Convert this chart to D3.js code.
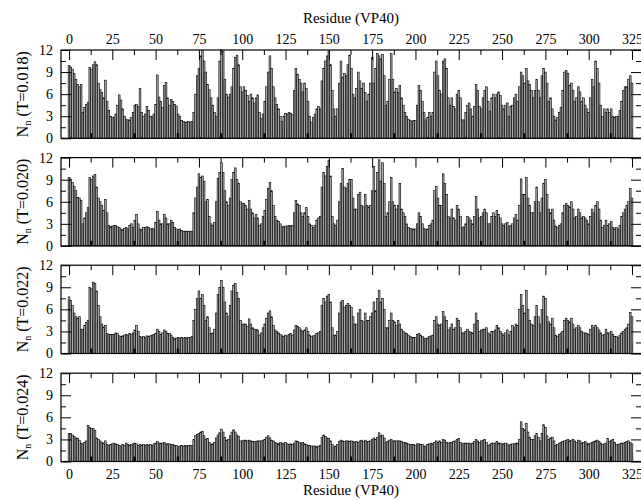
<!DOCTYPE html>
<html><head><meta charset="utf-8">
<script src="https://cdn.jsdelivr.net/npm/d3@7"></script>
<style>body{margin:0;background:#fff}svg{display:block}</style>
</head><body><svg id="c" width="641" height="500"></svg>
<script>
const temps = ["0.018","0.020","0.022","0.024"];
const xTicks = [0,25,50,75,100,125,150,175,200,225,250,275,300,325];
const yTicks = [0,3,6,9,12];
const xTitle = "Residue (VP40)";

const nT018 = [
9.9,9.7,9.4,8.8,8.0,7.3,7.0,7.3,3.5,4.2,
4.6,4.9,9.6,9.4,10.0,10.4,10.0,7.5,6.6,6.2,
5.5,7.9,5.0,3.8,3.0,2.8,2.9,3.3,4.5,5.9,
5.2,4.0,3.0,2.6,2.5,2.5,2.8,3.5,4.5,4.6,
4.3,6.8,3.5,3.0,3.3,4.3,3.8,3.0,3.0,3.3,
4.6,8.6,5.6,5.0,4.2,7.2,7.6,5.5,4.5,5.3,
5.0,4.6,4.4,3.3,3.0,2.4,2.3,2.2,2.2,2.3,
2.2,2.3,3.5,6.0,8.5,9.5,11.2,11.9,10.5,9.0,
7.3,6.6,5.5,4.5,3.5,3.0,5.5,10.5,12.0,11.8,
8.0,6.0,5.6,6.0,7.0,9.5,11.0,11.3,10.0,7.0,
6.3,7.0,6.5,5.8,5.0,6.0,5.5,4.8,5.5,5.9,
3.5,2.7,3.3,5.0,7.0,9.0,11.2,9.5,7.0,5.5,
4.6,4.0,3.0,2.3,3.0,3.4,3.3,3.5,3.4,3.2,
6.5,9.5,8.7,8.0,7.5,6.3,7.5,6.8,5.0,3.0,
2.2,2.8,3.3,4.0,4.3,4.0,7.8,9.5,10.5,11.2,
11.8,10.0,6.5,4.0,3.0,4.0,7.5,10.5,8.3,8.8,
8.5,10.0,11.3,9.5,6.0,5.5,6.8,9.0,7.8,6.8,
7.5,6.2,5.0,6.0,7.5,11.0,7.5,9.5,11.5,11.2,
10.8,11.4,8.5,4.5,5.0,8.0,11.5,8.0,6.3,6.8,
6.2,7.2,5.5,4.5,3.5,3.0,2.6,2.4,2.3,2.4,
2.4,4.5,7.2,6.5,5.0,3.5,2.5,2.8,3.5,3.0,
3.5,9.0,10.5,8.5,6.5,6.0,10.5,10.8,9.5,5.5,
4.5,5.5,4.3,4.0,6.0,6.5,5.5,2.5,2.5,3.5,
4.5,4.8,4.0,3.0,4.3,7.3,6.5,4.3,4.0,5.5,
6.5,7.0,5.0,3.7,5.5,6.0,5.5,6.0,6.3,5.8,
4.5,4.0,4.5,4.8,3.0,4.3,4.5,5.5,6.0,5.0,
7.0,9.0,8.5,7.5,9.5,7.8,7.3,6.5,5.5,6.5,
8.0,6.5,5.5,8.5,9.5,9.0,7.5,5.0,5.5,4.0,
3.0,2.5,2.8,3.5,4.2,6.5,9.0,9.2,8.8,7.2,
7.5,6.5,5.0,5.5,7.0,6.3,5.0,5.5,4.5,4.0,
3.5,5.5,8.0,7.0,10.5,9.5,7.5,4.5,3.0,4.0,
3.5,4.0,3.5,4.0,3.0,2.8,3.0,3.0,3.8,5.0,
6.5,7.0,7.0,8.0,8.5,7.5];

const nT020 = [
9.3,9.1,8.6,8.1,7.5,6.6,6.5,6.2,3.0,3.8,
4.5,5.2,9.3,9.0,9.5,9.7,8.0,6.5,6.0,5.5,
4.8,6.3,4.5,2.8,2.6,2.7,2.8,2.8,2.6,2.5,
2.3,2.2,2.4,2.5,2.3,2.8,3.0,2.5,3.5,4.3,
3.0,2.3,2.2,2.5,2.5,2.6,2.5,2.3,2.4,2.3,
3.2,4.7,3.5,3.0,3.0,4.3,3.8,3.0,3.0,3.5,
3.2,2.5,2.3,2.2,2.3,2.1,2.0,2.0,2.0,2.0,
2.0,2.0,4.5,6.5,8.0,9.8,9.3,9.5,8.8,6.0,
6.3,4.0,3.0,2.8,3.2,6.0,9.2,10.0,11.3,10.0,
7.5,6.0,5.5,6.5,9.0,10.0,10.6,9.0,8.5,6.0,
5.8,5.8,5.5,5.0,6.2,5.0,4.5,3.8,4.3,3.8,
2.8,3.0,4.0,4.8,6.3,7.8,8.6,7.5,5.5,4.0,
3.5,3.3,3.0,2.6,2.6,2.7,2.7,2.8,2.7,2.8,
4.5,6.2,5.7,5.5,4.5,4.0,4.5,5.2,4.0,3.0,
2.8,2.5,2.8,3.5,3.8,4.0,8.0,10.0,9.5,10.8,
11.6,9.5,4.0,3.0,2.8,3.5,6.0,8.5,10.5,8.0,
7.8,8.5,9.0,9.0,6.5,5.0,5.0,7.0,7.3,5.5,
5.3,7.0,5.5,5.3,5.5,7.5,10.8,7.5,10.0,11.7,
8.8,11.3,8.5,4.0,4.5,6.0,9.3,6.0,5.5,5.0,
5.5,8.5,5.0,4.5,4.0,3.0,2.5,2.4,2.3,2.3,
2.3,3.0,4.5,4.0,3.0,2.4,2.2,2.3,2.8,3.0,
3.5,7.5,8.1,6.5,5.5,5.5,9.8,8.5,7.0,4.0,
3.8,5.0,3.8,3.5,5.5,5.0,4.0,2.5,2.6,3.0,
4.0,3.8,3.5,3.0,4.0,6.7,5.0,3.8,4.0,4.5,
5.0,4.5,3.0,3.0,4.0,4.5,4.0,4.8,4.3,3.8,
3.0,2.8,3.0,3.2,2.6,2.8,3.0,3.8,4.3,3.5,
5.5,9.1,7.0,7.0,9.3,6.5,5.5,4.5,4.5,6.0,
8.0,6.0,4.5,6.5,8.5,9.0,7.0,5.0,4.5,5.0,
3.5,2.7,2.5,2.8,3.0,4.5,5.5,5.8,5.5,5.3,
6.0,5.0,3.8,4.0,5.0,4.5,3.8,4.0,3.8,3.5,
3.0,4.0,5.0,4.5,5.5,6.0,5.0,3.5,2.5,2.8,
3.5,2.8,3.0,3.3,2.5,2.3,2.5,2.3,2.8,4.0,
4.5,5.0,5.5,6.0,7.8,6.5];

const nT022 = [
7.7,7.2,6.5,5.5,5.0,4.8,5.0,3.3,3.3,3.8,
4.2,4.5,9.0,8.8,9.7,9.5,8.5,6.5,5.0,4.0,
3.6,3.8,2.7,2.6,2.6,2.6,2.6,2.8,2.7,2.4,
2.3,2.4,2.5,2.6,2.5,2.7,2.6,2.8,3.2,3.8,
3.0,2.3,2.2,2.3,2.2,2.4,2.3,2.4,2.5,2.6,
2.7,3.3,3.0,2.6,2.8,3.2,3.0,2.7,2.7,2.5,
2.2,2.0,2.1,2.2,2.1,2.2,2.1,2.2,2.1,2.2,
2.2,2.3,4.5,6.0,7.5,8.5,7.5,8.0,6.5,4.5,
5.0,3.5,2.7,2.8,3.3,5.5,8.0,9.0,9.9,9.0,
7.0,5.5,5.0,6.5,8.5,9.3,9.5,8.3,7.5,4.5,
4.0,4.0,4.0,3.7,4.7,4.0,3.5,3.3,3.3,3.2,
2.5,2.8,3.5,4.0,4.8,5.5,5.8,5.0,3.8,3.2,
3.0,2.8,2.6,2.4,2.3,2.5,2.4,2.6,2.7,2.5,
3.2,3.8,3.7,3.5,3.2,3.0,3.2,3.5,3.0,2.5,
2.3,2.4,2.5,2.7,2.8,3.0,6.5,7.5,7.0,7.8,
8.0,7.0,3.5,2.5,2.5,3.0,5.5,7.0,7.2,6.3,
6.5,6.8,6.5,6.3,5.0,4.0,4.0,5.5,6.0,4.5,
4.3,5.5,4.5,4.5,5.0,5.5,7.0,5.8,7.5,8.6,
7.0,7.5,6.0,3.5,3.5,4.5,5.5,4.5,4.3,3.8,
4.5,4.0,3.3,3.0,2.8,2.7,2.5,2.3,2.2,2.2,
2.2,2.6,2.7,2.5,2.3,2.1,2.0,2.1,2.3,2.4,
2.5,4.5,5.0,4.0,3.8,4.0,5.7,5.0,4.5,3.2,
3.5,4.0,3.3,3.5,4.8,4.5,3.5,2.8,2.8,3.0,
3.3,3.0,2.9,2.8,4.0,5.5,4.5,3.0,3.2,3.3,
3.3,3.5,2.8,2.6,3.0,3.0,3.2,3.8,3.5,3.0,
2.7,2.5,2.8,3.2,2.5,3.0,3.8,3.5,4.0,3.8,
6.0,8.0,6.5,5.5,8.6,6.0,4.5,4.0,3.8,5.0,
6.5,5.0,4.0,6.0,7.8,7.5,5.0,4.3,4.0,4.8,
3.5,2.5,2.3,2.6,2.8,3.0,4.5,4.8,4.5,4.3,
4.8,4.0,3.3,3.5,3.8,3.5,3.0,2.8,2.8,2.7,
2.6,3.3,3.8,3.5,3.8,3.5,3.2,2.8,2.5,2.6,
3.3,2.8,2.8,3.0,2.6,2.3,2.3,2.2,2.5,2.8,
3.0,3.3,3.5,4.0,5.6,5.0];

const nT024 = [
3.8,3.8,3.6,3.4,3.2,3.1,2.9,2.5,2.4,2.6,
2.8,4.9,4.6,4.5,4.5,4.2,3.2,3.0,2.8,2.6,
2.5,2.8,2.3,2.2,2.3,2.4,2.5,2.4,2.3,2.2,
2.1,2.3,2.2,2.5,2.3,2.2,2.3,2.4,2.5,2.4,
2.2,2.3,2.2,2.3,2.2,2.3,2.2,2.3,2.2,2.4,
2.5,2.7,2.5,2.5,2.5,2.6,2.4,2.4,2.4,2.3,
2.3,2.2,2.2,2.0,2.1,2.2,2.1,2.2,2.1,2.2,
2.2,2.2,3.0,3.5,3.7,3.8,4.0,4.1,3.5,3.0,
3.1,2.6,2.3,2.4,2.6,3.2,3.6,3.9,4.4,4.0,
3.3,2.9,3.0,3.5,4.0,4.3,4.0,3.6,3.4,2.8,
2.8,2.9,2.9,2.8,2.9,2.8,2.7,2.7,2.7,2.8,
2.8,2.8,2.9,3.0,3.3,3.5,3.2,2.9,2.8,2.6,
2.5,2.4,2.6,2.5,2.4,2.6,2.4,2.3,2.4,2.3,
2.5,2.8,2.7,2.6,2.5,2.6,2.4,2.3,2.2,2.2,
2.1,2.1,2.1,2.0,2.1,2.2,3.3,3.6,3.4,3.2,
3.1,2.8,2.3,2.0,2.1,2.3,2.7,2.9,2.8,2.7,
2.8,2.8,2.7,2.8,2.7,2.6,2.7,2.6,2.8,2.9,
2.7,2.9,2.7,2.7,2.8,3.0,3.2,3.0,3.3,3.9,
3.5,3.6,3.2,2.6,2.7,2.9,3.0,2.8,2.8,2.8,
2.8,2.8,2.7,2.6,2.6,2.5,2.4,2.3,2.3,2.3,
2.2,2.4,2.4,2.3,2.3,2.1,2.1,2.3,2.4,2.5,
2.4,2.6,2.8,2.6,2.8,2.6,3.0,2.9,2.6,2.5,
2.6,2.6,2.7,2.8,3.0,3.1,2.6,2.4,2.5,2.5,
2.5,2.5,2.4,2.5,2.7,3.0,2.8,2.6,2.8,2.9,
3.0,2.6,2.2,2.3,2.5,2.5,2.5,2.7,2.5,2.5,
2.4,2.4,2.5,2.4,2.2,2.3,2.4,2.4,2.5,2.5,
3.0,5.4,4.5,4.3,5.2,4.0,3.3,3.0,3.0,3.5,
3.8,3.3,2.8,3.8,5.0,4.6,3.5,3.0,3.2,3.3,
2.8,2.2,2.3,2.5,2.6,2.7,2.8,2.9,3.0,2.8,
2.9,3.0,2.8,2.6,2.9,2.8,2.5,2.6,2.7,2.5,
2.4,2.5,2.6,2.7,2.8,2.9,2.7,2.5,2.3,2.4,
2.5,3.1,2.7,2.9,3.0,2.6,2.3,2.3,2.4,2.5,
2.5,2.6,2.7,2.8,2.6,2.4];

const series = [nT018, nT020, nT022, nT024];

const svg = d3.select("#c");
const FONT = "'Liberation Serif','Times New Roman',Times,serif";
const x = d3.scaleLinear().domain([-4.62, 330.2]).range([61, 641]);
const tops = [50, 157.6, 265.2, 373.2];
const ph = 88.3;
const xMinor = d3.range(12.5, 330, 25);
const yMinor = [1.5, 4.5, 7.5, 10.5];
const bw = x(1) - x(0);

function styleAxis(g) {
  g.select(".domain").remove();
  g.selectAll("line").attr("stroke", "#000").attr("stroke-width", 1);
  g.selectAll("text").attr("font-family", FONT).attr("font-size", 14).attr("fill", "#000");
}

series.forEach((vals, k) => {
  const y = d3.scaleLinear().domain([0, 12]).range([tops[k] + ph, tops[k]]);
  const g = svg.append("g");

  g.append("g").attr("transform", `translate(0,${y(0)})`)
    .call(d3.axisBottom(x).tickValues(xTicks).tickSizeInner(-10).tickSizeOuter(0).tickFormat(""))
    .call(styleAxis);

  // bars
  g.append("g").selectAll("rect").data(vals).join("rect")
    .attr("x", (d, i) => x(i) - bw / 2)
    .attr("width", bw)
    .attr("y", d => y(d))
    .attr("height", d => y(0) - y(d))
    .attr("fill", "#a8a8a8")
    .attr("stroke", "#000")
    .attr("stroke-width", 0.6);

  g.append("g").attr("transform", `translate(0,${y(0)})`)
    .call(d3.axisBottom(x).tickValues(xMinor).tickSizeInner(-5).tickSizeOuter(0).tickFormat(""))
    .call(styleAxis)
    .selectAll("line").attr("stroke-width", 2);

  const top = d3.axisTop(x).tickValues(xTicks).tickSizeInner(-10).tickSizeOuter(0).tickPadding(6);
  if (k !== 0) top.tickFormat("");
  g.append("g").attr("transform", `translate(0,${tops[k]})`).call(top).call(styleAxis);
  g.append("g").attr("transform", `translate(0,${tops[k]})`)
    .call(d3.axisTop(x).tickValues(xMinor).tickSizeInner(-5).tickSizeOuter(0).tickFormat(""))
    .call(styleAxis);

  if (k === 3) {
    g.append("g").attr("transform", `translate(0,${y(0)})`)
      .call(d3.axisBottom(x).tickValues(xTicks).tickSizeInner(0).tickSizeOuter(0).tickPadding(8))
      .call(styleAxis);
  }

  g.append("g").attr("transform", `translate(61,0)`)
    .call(d3.axisLeft(y).tickValues(yTicks).tickSizeInner(-10).tickSizeOuter(0).tickPadding(8).tickFormat(d3.format("d")))
    .call(styleAxis);
  g.append("g").attr("transform", `translate(61,0)`)
    .call(d3.axisLeft(y).tickValues(yMinor).tickSizeInner(-5).tickSizeOuter(0).tickFormat(""))
    .call(styleAxis);
  g.append("g").attr("transform", `translate(641,0)`)
    .call(d3.axisRight(y).tickValues(yTicks).tickSizeInner(-10).tickSizeOuter(0).tickFormat(""))
    .call(styleAxis);
  g.append("g").attr("transform", `translate(641,0)`)
    .call(d3.axisRight(y).tickValues(yMinor).tickSizeInner(-5).tickSizeOuter(0).tickFormat(""))
    .call(styleAxis);

  g.append("rect").attr("x", 61).attr("y", tops[k]).attr("width", 581).attr("height", ph)
    .attr("fill", "none").attr("stroke", "#000").attr("stroke-width", 1.2);

  const cy = tops[k] + ph / 2;
  const lab = g.append("text")
    .attr("transform", `translate(28,${cy}) rotate(-90)`)
    .attr("text-anchor", "middle")
    .attr("font-family", FONT).attr("font-size", 16).attr("fill", "#000");
  lab.append("tspan").text("N");
  lab.append("tspan").attr("font-size", 10).attr("dy", 3).text("n");
  lab.append("tspan").attr("dy", -3).text(` (T=${temps[k]})`);
});

svg.append("text").attr("x", 351).attr("y", 23).attr("text-anchor", "middle")
  .attr("font-family", FONT).attr("font-size", 15).attr("fill", "#000").text(xTitle);
svg.append("text").attr("x", 351).attr("y", 495).attr("text-anchor", "middle")
  .attr("font-family", FONT).attr("font-size", 15).attr("fill", "#000").text(xTitle);
</script></body></html>
